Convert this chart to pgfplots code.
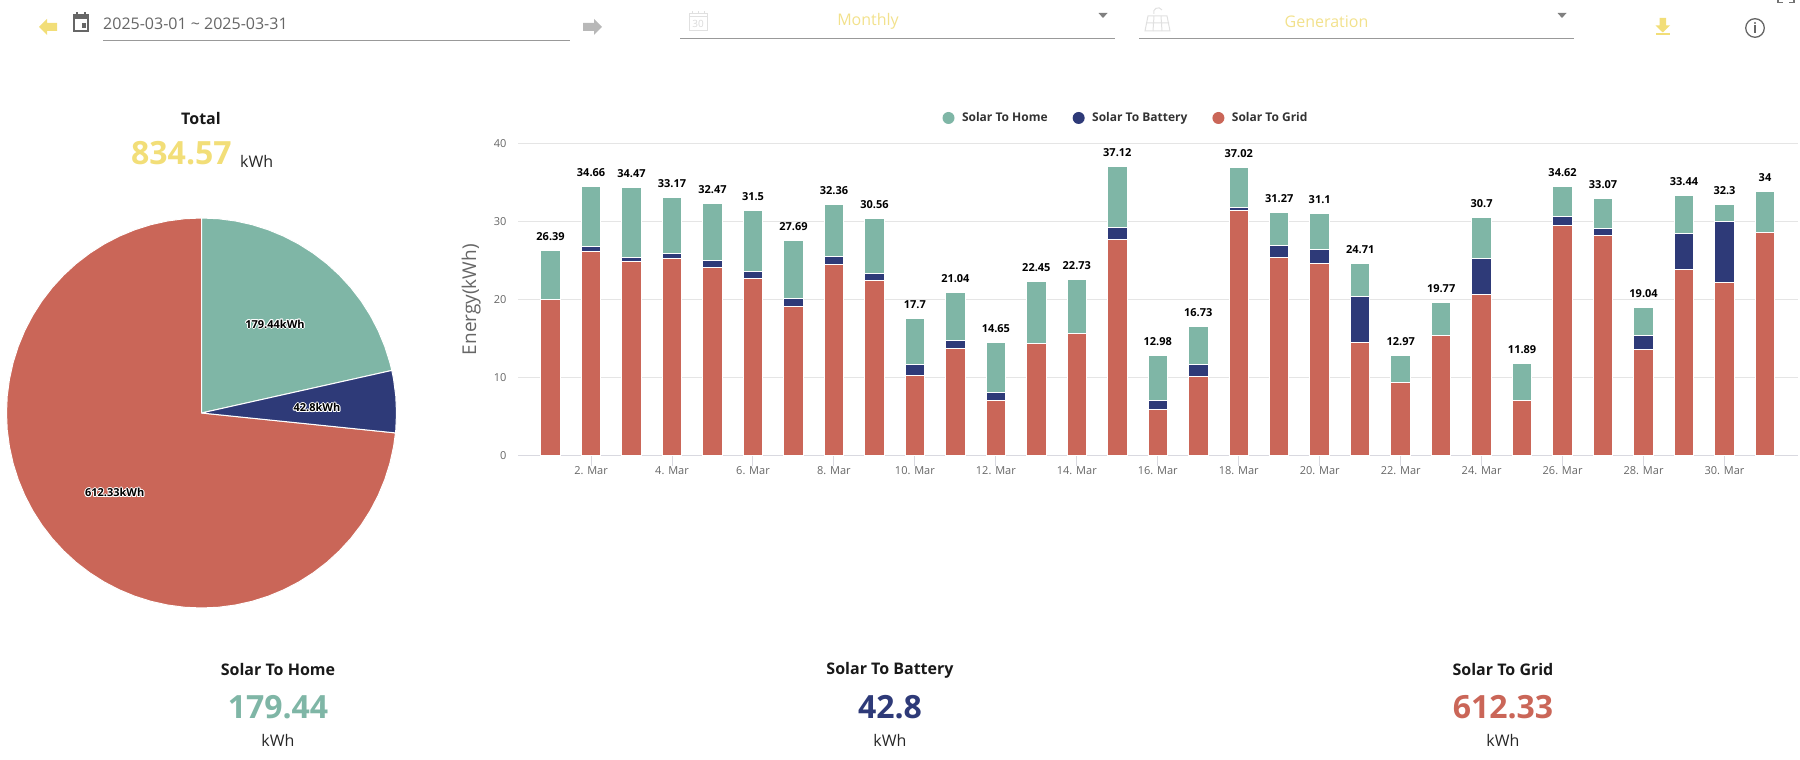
\documentclass[border=0pt]{standalone}
\usepackage{fontspec}
\setmainfont{Open Sans}
\usepackage{pgfplots}
\usepackage{pgfplotstable}
\pgfplotsset{compat=1.18}
\definecolor{home}{HTML}{7FB6A6}
\definecolor{batt}{HTML}{2E3A78}
\definecolor{gridc}{HTML}{CA6658}
\definecolor{gold}{HTML}{F2DE78}
\definecolor{paleg}{HTML}{F2E18C}
\definecolor{txt}{HTML}{666666}
\newcommand{\fs}[1]{\fontsize{#1pt}{#1pt}\selectfont}
% white halo behind the pie labels
\newcommand{\halolabel}[3]{%
  \foreach \dx/\dy in {-1/0,1/0,0/-1,0/1,-.8/-.8,-.8/.8,.8/-.8,.8/.8}
    \node[text=white,font=\fs{11}\bfseries] at (#1+\dx,#2+\dy) {#3};
  \node[text=black,font=\fs{11}\bfseries] at (#1,#2) {#3};}

\pgfplotstableread{
d  grid  bat  home lab   top
1  20.06 0.00 6.23 26.39 26.29
2  26.20 0.56 7.71 34.66 34.47
3  24.92 0.43 9.00 34.47 34.35
4  25.31 0.55 7.20 33.17 33.06
5  24.15 0.81 7.34 32.47 32.30
6  22.75 0.81 7.84 31.5  31.40
7  19.16 0.94 7.46 27.69 27.56
8  24.54 0.94 6.69 32.36 32.17
9  22.49 0.81 7.08 30.56 30.38
10 10.34 1.32 5.93 17.7  17.59
11 13.79 0.94 6.18 21.04 20.91
12 7.14  0.94 6.44 14.65 14.52
13 14.43 0.00 7.89 22.45 22.32
14 15.71 0.00 6.87 22.73 22.58
15 27.74 1.53 7.76 37.12 37.03
16 5.99  1.06 5.80 12.98 12.85
17 10.21 1.53 4.82 16.73 16.56
18 31.45 0.29 5.16 37.02 36.90
19 25.43 1.53 4.19 31.27 31.15
20 24.66 1.80 4.56 31.1  31.02
21 14.56 5.88 4.18 24.71 24.62
22 9.44  0.00 3.41 12.97 12.85
23 15.45 0.00 4.18 19.77 19.63
24 20.70 4.61 5.20 30.7  30.51
25 7.14  0.00 4.69 11.89 11.83
26 29.53 1.15 3.79 34.62 34.47
27 28.25 0.81 3.88 33.07 32.94
28 13.66 1.79 3.54 19.04 18.99
29 23.90 4.60 4.82 33.44 33.32
30 22.23 7.72 2.22 32.3  32.17
31 28.63 0.00 5.20 34    33.83
}\daily

\begin{document}
\begin{tikzpicture}[x=1pt,y=1pt]
\useasboundingbox (0,0) rectangle (1800,760);

% toolbar
\fill[gold] (39,733) -- (47,741) -- (47,737) -- (57,737) -- (57,729) -- (47,729) -- (47,725) -- cycle;
\fill[black!28] (602,733) -- (594,741) -- (594,737) -- (583,737) -- (583,729) -- (594,729) -- (594,725) -- cycle;
\draw[txt,line width=1.6] (74,729) rectangle (88,745);
\fill[txt] (73.5,741) rectangle (88.5,746);
\fill[txt] (76,745) rectangle (78,747.5);
\fill[txt] (84,745) rectangle (86,747.5);
\fill[txt] (81.5,732) rectangle (86,736.5);
\node[anchor=west,inner sep=0,text=txt,font=\fs{16}] at (103,736) {2025-03-01 \textasciitilde{} 2025-03-31};
\draw[black!40,line width=1] (103,719.7) -- (570,719.7);

\draw[black!12,line width=1] (689,729) rectangle (707,746);
\draw[black!12,line width=1] (689,743) -- (707,743);
\foreach \a in {692,698,704} \draw[black!12,line width=1] (\a,746) -- (\a,749);
\node[text=black!15,font=\fs{10}] at (698,736) {30};
\node[text=paleg,font=\fs{16}] at (868,738.5) {Monthly};
\draw[black!40,line width=1] (680,721.7) -- (1115,721.7);
\fill[black!50] (1098.5,747) -- (1107.5,747) -- (1103,742) -- cycle;

\draw[black!12,line width=1] (1145,729) -- (1170,729) -- (1167,744) -- (1148,744) -- cycle;
\draw[black!12,line width=1] (1153,729) -- (1154,744) (1162,729) -- (1161,744) (1146,737) -- (1169,737);
\draw[black!12,line width=1] (1162,750) arc (30:200:4.5);
\node[text=paleg,font=\fs{16}] at (1326.5,738.5) {Generation};
\draw[black!40,line width=1] (1139,721.7) -- (1574,721.7);
\fill[black!50] (1557.5,747) -- (1566.5,747) -- (1562,742) -- cycle;

\fill[gold] (1659.5,742) -- (1666,742) -- (1666,734.5) -- (1670,734.5) -- (1662.75,727.5) -- (1655.5,734.5) -- (1659.5,734.5) -- cycle;
\fill[gold] (1655.5,725) rectangle (1670,726.8);
\draw[black!60,line width=1.3] (1755,732) circle (9.3);
\fill[black!60] (1755,737) circle (1.1);
\fill[black!60] (1754,726.5) rectangle (1756,734.5);
\draw[black!55,line width=1.5] (1778,760) -- (1778,757.5) -- (1783,757.5);
\draw[black!55,line width=1.5] (1794,760) -- (1794,757.5) -- (1789,757.5);

% totals, left
\node[text=black!90,font=\fs{16}\bfseries] at (201,641) {Total};
\node[text=gold,font=\fs{32}\bfseries,anchor=base west,inner sep=0] at (131,595) {834.57};
\node[text=black!85,font=\fs{16},anchor=base west,inner sep=0] at (240,592.5) {kWh};

% pie, shares 179.44 / 42.8 / 612.33 of 834.57
\begin{axis}[at={(201.5pt,347pt)},anchor=center,scale only axis,width=390pt,height=390pt,
  hide axis,xmin=-1,xmax=1,ymin=-1,ymax=1,clip=false]
\addplot[fill=gridc,draw=white,line width=1pt] coordinates {
(0,0)(.99477,-.10210)(.98481,-.17365)(.96593,-.25882)(.93969,-.34202)(.90631,-.42262)(.86603,-.5)
(.81915,-.57358)(.76604,-.64279)(.70711,-.70711)(.64279,-.76604)(.57358,-.81915)(.5,-.86603)
(.42262,-.90631)(.34202,-.93969)(.25882,-.96593)(.17365,-.98481)(.08716,-.99619)(0,-1)
(-.08716,-.99619)(-.17365,-.98481)(-.25882,-.96593)(-.34202,-.93969)(-.42262,-.90631)(-.5,-.86603)
(-.57358,-.81915)(-.64279,-.76604)(-.70711,-.70711)(-.76604,-.64279)(-.81915,-.57358)(-.86603,-.5)
(-.90631,-.42262)(-.93969,-.34202)(-.96593,-.25882)(-.98481,-.17365)(-.99619,-.08716)(-1,0)
(-.99619,.08716)(-.98481,.17365)(-.96593,.25882)(-.93969,.34202)(-.90631,.42262)(-.86603,.5)
(-.81915,.57358)(-.76604,.64279)(-.70711,.70711)(-.64279,.76604)(-.57358,.81915)(-.5,.86603)
(-.42262,.90631)(-.34202,.93969)(-.25882,.96593)(-.17365,.98481)(-.08716,.99619)(0,1)(0,0)};
\addplot[fill=home,draw=white,line width=1pt] coordinates {
(0,0)(0,1)(.08716,.99619)(.17365,.98481)(.25882,.96593)(.34202,.93969)(.42262,.90631)(.5,.86603)
(.57358,.81915)(.64279,.76604)(.70711,.70711)(.76604,.64279)(.81915,.57358)(.86603,.5)(.90631,.42262)
(.93969,.34202)(.96593,.25882)(.97592,.21814)(0,0)};
\addplot[fill=batt,draw=white,line width=1pt] coordinates {
(0,0)(.97592,.21814)(.98481,.17365)(.99619,.08716)(1,0)(.99619,-.08716)(.99477,-.10210)(0,0)};
\end{axis}
\halolabel{275}{436}{179.44kWh}
\halolabel{317}{352.3}{42.8kWh}
\halolabel{114.7}{267.3}{612.33kWh}

% daily stacked bars
\begin{axis}[at={(518pt,304pt)},anchor=south west,scale only axis,width=1280pt,height=312.7pt,
  ybar stacked,bar width=19.5pt,
  xmin=0.195,xmax=31.815,ymin=0,ymax=40,
  axis lines*=left,
  x axis line style={draw=blue!20!black!15,line width=1pt,-},
  y axis line style={draw=none},
  ymajorgrids,grid style={draw=black!10,line width=1pt},
  ytick={0,10,...,40},
  xtick={2,4,...,30},
  xticklabels={2. Mar,4. Mar,6. Mar,8. Mar,10. Mar,12. Mar,14. Mar,16. Mar,18. Mar,20. Mar,22. Mar,24. Mar,26. Mar,28. Mar,30. Mar},
  tick align=outside,
  major tick length=10pt,
  xtick style={draw=blue!20!black!15,line width=1pt},
  ytick style={draw=none},
  /pgf/number format/assume math mode=true,
  tick label style={text=txt,font=\fs{11}},
  xticklabel style={anchor=base,yshift=-9pt},
  yticklabel style={xshift=2pt},
  ylabel={Energy(kWh)},
  ylabel style={text=txt,font=\fs{19},at={(rel axis cs:0,0.5)},anchor=south,yshift=33.7pt},
  legend columns=-1,
  legend style={draw=none,fill=none,at={(0.475,1.081)},anchor=center,font=\fs{12}\bfseries,text=black!80,
    /tikz/every even column/.append style={column sep=23pt},
    /tikz/every odd column/.append style={column sep=5.5pt}},
  reverse legend,
  legend image code/.code={\fill[#1,draw=none] (0pt,0pt) circle (6pt);},
  clip=false,
]
\addplot[fill=gridc,draw=white,line width=1pt] table[x=d,y=grid] {\daily};
\addplot[fill=batt,draw=white,line width=1pt] table[x=d,y=bat] {\daily};
\addplot[fill=home,draw=white,line width=1pt] table[x=d,y=home] {\daily};
\legend{Solar To Grid,Solar To Battery,Solar To Home}
\end{axis}

% day totals above the stacks
\begin{axis}[at={(518pt,304pt)},anchor=south west,scale only axis,width=1280pt,height=312.7pt,
  hide axis,xmin=0.195,xmax=31.815,ymin=0,ymax=40,clip=false]
\addplot[only marks,mark=none,
  point meta=explicit symbolic,
  nodes near coords,
  every node near coord/.append style={font=\fs{11}\bfseries,text=black,anchor=center,inner sep=0,yshift=14pt},
] table[x=d,y=top,meta=lab] {\daily};
\end{axis}

% bottom summary
\node[text=black!90,font=\fs{16}\bfseries] at (278,90) {Solar To Home};
\node[text=home,font=\fs{32}\bfseries] at (278,53) {179.44};
\node[text=black!85,font=\fs{16}] at (278,19.5) {kWh};
\node[text=black!90,font=\fs{16}\bfseries] at (890,90) {Solar To Battery};
\node[text=batt,font=\fs{32}\bfseries] at (890,53) {42.8};
\node[text=black!85,font=\fs{16}] at (890,19.5) {kWh};
\node[text=black!90,font=\fs{16}\bfseries] at (1503,90) {Solar To Grid};
\node[text=gridc,font=\fs{32}\bfseries] at (1503,53) {612.33};
\node[text=black!85,font=\fs{16}] at (1503,19.5) {kWh};
\end{tikzpicture}
\end{document}
